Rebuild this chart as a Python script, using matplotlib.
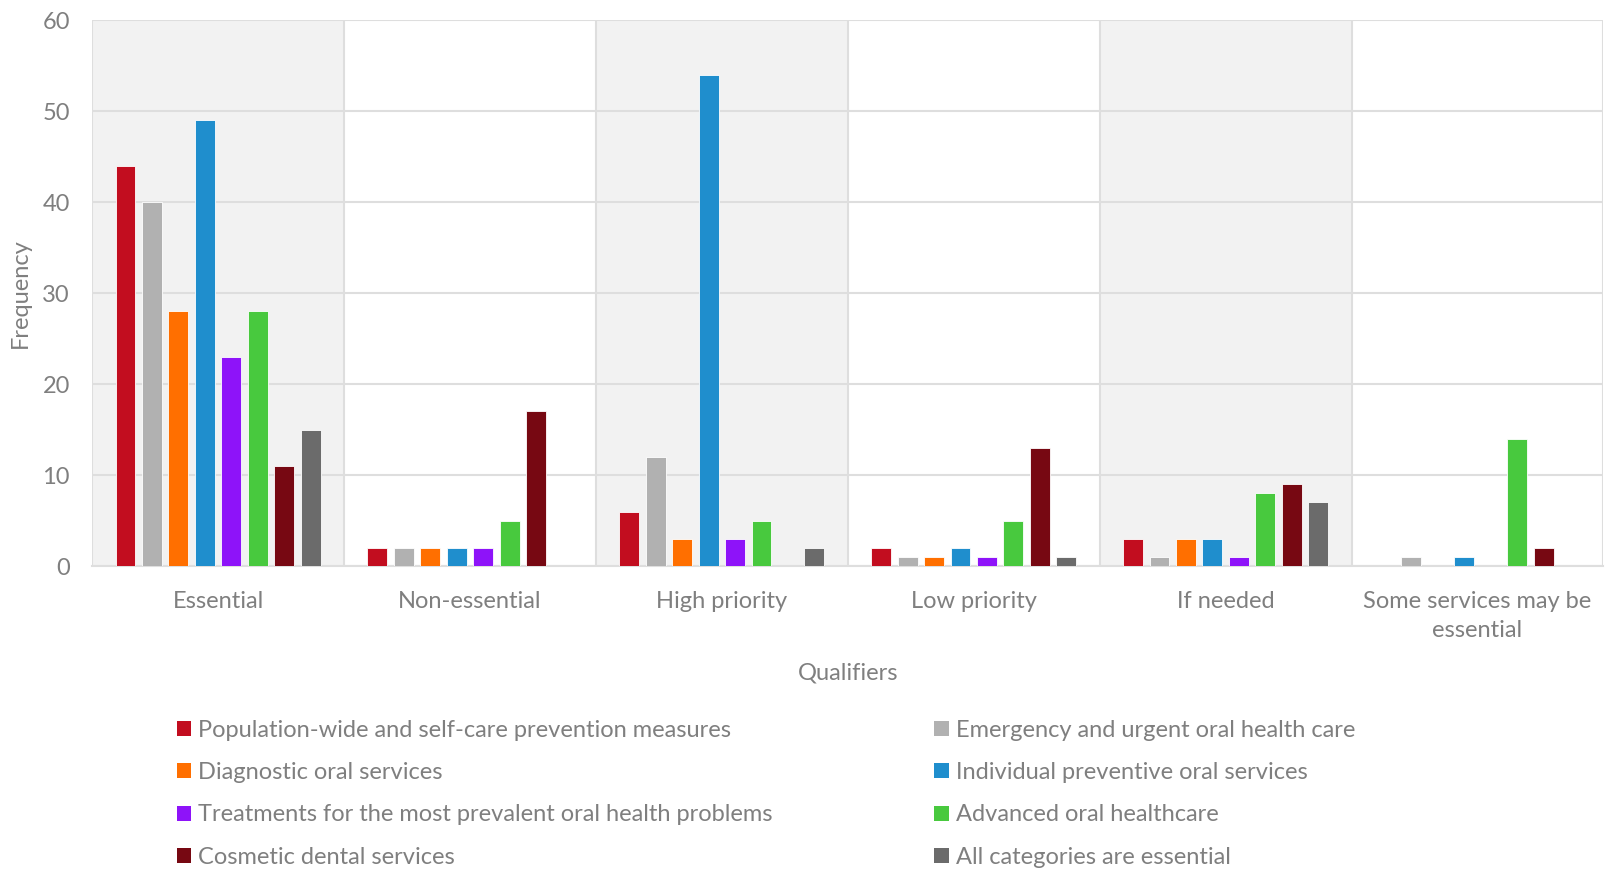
import matplotlib.pyplot as plt
import numpy as np
from matplotlib.patches import Patch

plt.rcParams['font.family'] = ['Lato', 'DejaVu Sans']

qualifiers = ["Essential", "Non-essential", "High priority", "Low priority",
              "If needed", "Some services may be\nessential"]

series_names = ["Population-wide and self-care prevention measures",
                "Emergency and urgent oral health care",
                "Diagnostic oral services",
                "Individual preventive oral services",
                "Treatments for the most prevalent oral health problems",
                "Advanced oral healthcare",
                "Cosmetic dental services",
                "All categories are essential"]

series_colors = ["#C20D1F", "#B1B1B1", "#FF6F00", "#1F8ECD",
                 "#8E13F9", "#48C93E", "#770812", "#6B6B6B"]

# one list per service category, one value per qualifier
population_wide = [44, 2, 6, 2, 3, 0]
emergency = [40, 2, 12, 1, 1, 1]
diagnostic = [28, 2, 3, 1, 3, 0]
individual_preventive = [49, 2, 54, 2, 3, 1]
treatments = [23, 2, 3, 1, 1, 0]
advanced = [28, 5, 5, 5, 8, 14]
cosmetic = [11, 17, 0, 13, 9, 2]
all_essential = [15, 0, 2, 1, 7, 0]

values = [population_wide, emergency, diagnostic, individual_preventive,
          treatments, advanced, cosmetic, all_essential]

text_grey = "#7F7F7F"
grid_grey = "#DEDEDE"
fs = 17

fig = plt.figure(figsize=(16.07, 8.75), dpi=100)
ax = fig.add_axes([0.0573, 0.353, 0.9405, 0.624])

x = np.arange(len(qualifiers))
step = 0.105
width = 0.079
n = len(values)

# shaded bands behind every other qualifier
for i in range(0, len(qualifiers), 2):
    ax.axvspan(i - 0.5, i + 0.5, color="#F2F2F2", zorder=0, lw=0)
for b in np.arange(-0.5, len(qualifiers), 1.0):
    ax.axvline(b, color=grid_grey, lw=1.5, zorder=1)

for j in range(n):
    offset = (j - (n - 1) / 2) * step
    ax.bar(x + offset, values[j], width=width, color=series_colors[j],
           edgecolor="white", linewidth=0.6, zorder=3)

ax.set_xlim(-0.5, len(qualifiers) - 0.5)
ax.set_ylim(0, 60)
ax.set_yticks(range(0, 61, 10))
ax.yaxis.grid(True, color=grid_grey, lw=1.5, zorder=1)
ax.set_axisbelow(True)

for s in ["top", "right", "left"]:
    ax.spines[s].set_visible(False)
ax.spines["bottom"].set_color(grid_grey)
ax.spines["bottom"].set_linewidth(1.5)

ax.set_xticks(x)
ax.set_xticklabels(qualifiers, linespacing=1.45)
ax.tick_params(axis="both", length=0, labelsize=fs, labelcolor=text_grey)
ax.tick_params(axis="x", pad=18)
ax.tick_params(axis="y", pad=16)

ax.set_xlabel("Qualifiers", fontsize=fs, color=text_grey, labelpad=16)
ax.set_ylabel("Frequency", fontsize=fs, color=text_grey, labelpad=8)

# legend in two columns, row by row
for col in range(2):
    handles = [Patch(facecolor=series_colors[k], edgecolor="none")
               for k in range(col, n, 2)]
    labels = [series_names[k] for k in range(col, n, 2)]
    fig.legend(handles, labels, loc="upper left",
               bbox_to_anchor=(0.1044 + col * 0.4712, 0.188), frameon=False,
               fontsize=fs, labelcolor=text_grey, handlelength=0.6,
               handleheight=0.6, handletextpad=0.3, labelspacing=0.9,
               borderaxespad=0)

fig.savefig("out.png", dpi=100)
